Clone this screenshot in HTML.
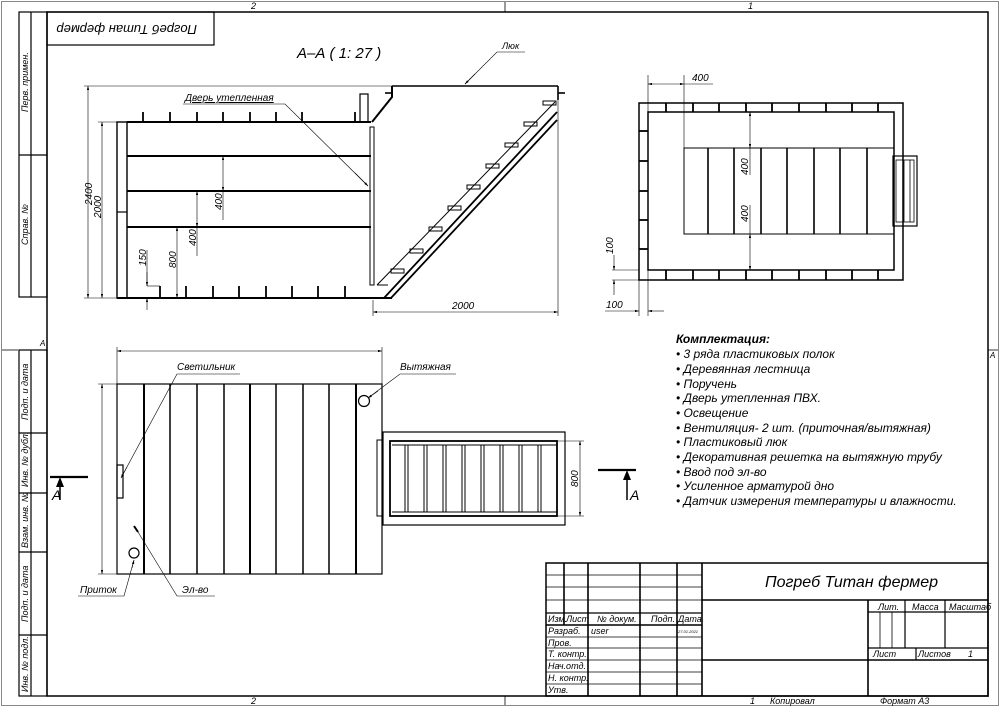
<!DOCTYPE html>
<html><head><meta charset="utf-8"><style>
html,body{margin:0;padding:0;background:#fff}
svg{display:block}
text{font-family:"Liberation Sans","DejaVu Sans",sans-serif;font-style:italic;fill:#000}
</style></head><body>
<svg width="1000" height="707" viewBox="0 0 1000 707" xmlns="http://www.w3.org/2000/svg">
<defs>
<marker id="a" viewBox="0 0 10 6" refX="10" refY="3" markerWidth="8" markerHeight="4" orient="auto-start-reverse"><path d="M0,0L10,3L0,6z" fill="#000"/></marker>
</defs>
<!-- outer frames -->
<rect x="1.5" y="1.5" width="997" height="704" fill="none" stroke="#888" stroke-width="1"/>
<rect x="47" y="12" width="941" height="684" fill="none" stroke="#000" stroke-width="1.5"/>
<g stroke="#000" stroke-width="0.8">
<line x1="505" y1="2" x2="505" y2="12"/><line x1="505" y1="696" x2="505" y2="705"/>
<line x1="988" y1="350" x2="998" y2="350"/><line x1="2" y1="350" x2="18" y2="350"/>
</g>
<text x="251" y="9" font-size="9">2</text><text x="748" y="9" font-size="9">1</text>
<text x="251" y="704" font-size="9">2</text>
<text x="40" y="346" font-size="8">A</text><text x="990" y="358" font-size="8">A</text>
<!-- left strips -->
<g fill="none" stroke="#000" stroke-width="1.2">
<rect x="19" y="12" width="28" height="285"/><line x1="31" y1="12" x2="31" y2="297"/><line x1="19" y1="155" x2="47" y2="155"/>
<rect x="19" y="350" width="28" height="346"/><line x1="31" y1="350" x2="31" y2="696"/>
<line x1="19" y1="433" x2="47" y2="433"/><line x1="19" y1="493" x2="47" y2="493"/><line x1="19" y1="552" x2="47" y2="552"/><line x1="19" y1="635" x2="47" y2="635"/>
<rect x="47" y="12" width="167" height="33"/>
</g>
<g font-size="9">
<text transform="translate(28,112) rotate(-90)">Перв. примен.</text>
<text transform="translate(28,245) rotate(-90)">Справ. №</text>
<text transform="translate(28,420) rotate(-90)">Подп. и дата</text>
<text transform="translate(28,487) rotate(-90)">Инв. № дубл.</text>
<text transform="translate(28,548) rotate(-90)">Взам. инв. №</text>
<text transform="translate(28,622) rotate(-90)">Подп. и дата</text>
<text transform="translate(28,692) rotate(-90)">Инв. № подл.</text>
</g>
<text transform="translate(197,25) rotate(180)" font-size="13">Погреб Титан фермер</text>

<!-- Section A-A -->
<text x="297" y="58" font-size="15">А–А ( 1: 27 )</text>
<g stroke="#000" fill="none">
<line x1="84" y1="86" x2="392" y2="86" stroke-width="0.6"/>
<line x1="392" y1="86" x2="558" y2="86" stroke-width="1.6"/>
<rect x="117" y="122" width="10" height="176" stroke-width="1.4"/>
<line x1="117" y1="212" x2="127" y2="212" stroke-width="1.2"/>
<line x1="127" y1="122" x2="371" y2="122" stroke-width="2"/>
<line x1="127" y1="156" x2="371" y2="156" stroke-width="2"/>
<line x1="127" y1="191" x2="371" y2="191" stroke-width="2"/>
<line x1="127" y1="227" x2="371" y2="227" stroke-width="2"/>
<line x1="117" y1="298" x2="392" y2="298" stroke-width="2"/>
<g stroke-width="1.8">
<line x1="143" y1="112" x2="143" y2="122"/><line x1="170" y1="112" x2="170" y2="122"/><line x1="197" y1="112" x2="197" y2="122"/><line x1="223" y1="112" x2="223" y2="122"/><line x1="250" y1="112" x2="250" y2="122"/><line x1="276" y1="112" x2="276" y2="122"/><line x1="302" y1="112" x2="302" y2="122"/><line x1="355" y1="112" x2="355" y2="122"/>
<line x1="186" y1="286" x2="186" y2="298"/><line x1="213" y1="286" x2="213" y2="298"/><line x1="239" y1="286" x2="239" y2="298"/><line x1="266" y1="286" x2="266" y2="298"/><line x1="292" y1="286" x2="292" y2="298"/><line x1="318" y1="286" x2="318" y2="298"/><line x1="345" y1="286" x2="345" y2="298"/>
<line x1="160" y1="286" x2="160" y2="298"/>
</g>
<rect x="360" y="94" width="8" height="28" stroke-width="1.2"/>
<rect x="370" y="127" width="4" height="158" stroke-width="1"/>
<polyline points="372,122 392,97 392,86" stroke-width="2"/>
<line x1="385" y1="93" x2="392" y2="93" stroke-width="1.6"/>
<line x1="558" y1="86" x2="558" y2="100" stroke-width="1.6"/>
<line x1="558" y1="93" x2="565" y2="93" stroke-width="1.6"/>
<line x1="377" y1="285" x2="555" y2="102" stroke-width="1"/>
<line x1="384" y1="298" x2="557" y2="112" stroke-width="1.8"/>
<line x1="391" y1="298" x2="557" y2="120" stroke-width="1.8"/>
<line x1="377" y1="285" x2="388" y2="285" stroke-width="1"/>
<g stroke-width="1">
<rect x="391" y="269" width="13" height="4"/><rect x="410" y="249" width="13" height="4"/><rect x="429" y="227" width="13" height="4"/><rect x="448" y="206" width="13" height="4"/><rect x="467" y="185" width="13" height="4"/><rect x="486" y="164" width="13" height="4"/><rect x="505" y="143" width="13" height="4"/><rect x="524" y="122" width="13" height="4"/><rect x="543" y="101" width="13" height="4"/>
</g>
<!-- dims -->
<g stroke-width="0.6">
<line x1="88" y1="86" x2="88" y2="298" marker-start="url(#a)" marker-end="url(#a)"/>
<line x1="84" y1="298" x2="117" y2="298"/>
<line x1="102" y1="122" x2="102" y2="298" marker-start="url(#a)" marker-end="url(#a)"/>
<line x1="98" y1="122" x2="117" y2="122"/>
<line x1="223" y1="156" x2="223" y2="191" marker-start="url(#a)" marker-end="url(#a)"/>
<line x1="223" y1="191" x2="223" y2="220"/>
<line x1="197" y1="191" x2="197" y2="227" marker-start="url(#a)" marker-end="url(#a)"/>
<line x1="197" y1="227" x2="197" y2="256"/>
<line x1="177" y1="227" x2="177" y2="298" marker-start="url(#a)" marker-end="url(#a)"/>
<line x1="147" y1="250" x2="147" y2="286" />
<line x1="147" y1="272" x2="147" y2="286" marker-end="url(#a)"/>
<line x1="147" y1="310" x2="147" y2="298" marker-end="url(#a)"/>
<line x1="147" y1="286" x2="160" y2="286"/>
<line x1="373" y1="300" x2="373" y2="316"/><line x1="558" y1="100" x2="558" y2="316"/>
<line x1="373" y1="312" x2="558" y2="312" marker-start="url(#a)" marker-end="url(#a)"/>
<polyline points="183,104 285,104 368,186" /><line x1="355" y1="173" x2="368" y2="186" marker-end="url(#a)"/>
<polyline points="525,52 497,52 465,84"/><line x1="475" y1="74" x2="465" y2="84" marker-end="url(#a)"/>
</g>
</g>
<g font-size="10">
<text transform="translate(92,205) rotate(-90)">2400</text>
<text transform="translate(101,218) rotate(-90)">2000</text>
<text transform="translate(222,210) rotate(-90)">400</text>
<text transform="translate(196,246) rotate(-90)">400</text>
<text transform="translate(176,268) rotate(-90)">800</text>
<text transform="translate(146,266) rotate(-90)">150</text>
<text x="452" y="309">2000</text>
<text x="185" y="101" text-decoration="underline">Дверь утепленная</text>
<text x="502" y="49" font-size="9">Люк</text>
</g>

<!-- Plan top right -->
<g stroke="#000" fill="none">
<rect x="639" y="103" width="264" height="177" stroke-width="1.5"/>
<rect x="648" y="112" width="246" height="158" stroke-width="1.5"/>
<g stroke-width="1.8">
<line x1="666" y1="103" x2="666" y2="112"/><line x1="693" y1="103" x2="693" y2="112"/><line x1="719" y1="103" x2="719" y2="112"/><line x1="746" y1="103" x2="746" y2="112"/><line x1="772" y1="103" x2="772" y2="112"/><line x1="799" y1="103" x2="799" y2="112"/><line x1="826" y1="103" x2="826" y2="112"/><line x1="852" y1="103" x2="852" y2="112"/><line x1="878" y1="103" x2="878" y2="112"/>
<line x1="666" y1="270" x2="666" y2="280"/><line x1="693" y1="270" x2="693" y2="280"/><line x1="719" y1="270" x2="719" y2="280"/><line x1="746" y1="270" x2="746" y2="280"/><line x1="772" y1="270" x2="772" y2="280"/><line x1="799" y1="270" x2="799" y2="280"/><line x1="826" y1="270" x2="826" y2="280"/><line x1="852" y1="270" x2="852" y2="280"/><line x1="878" y1="270" x2="878" y2="280"/>
<line x1="639" y1="131" x2="648" y2="131"/><line x1="639" y1="161" x2="648" y2="161"/><line x1="639" y1="191" x2="648" y2="191"/><line x1="639" y1="220" x2="648" y2="220"/><line x1="639" y1="249" x2="648" y2="249"/>
</g>
<rect x="684" y="148" width="210" height="86" stroke-width="1"/>
<g stroke-width="1.6">
<line x1="708" y1="148" x2="708" y2="234"/><line x1="734" y1="148" x2="734" y2="234"/><line x1="761" y1="148" x2="761" y2="234"/><line x1="787" y1="148" x2="787" y2="234"/><line x1="814" y1="148" x2="814" y2="234"/><line x1="840" y1="148" x2="840" y2="234"/><line x1="867" y1="148" x2="867" y2="234"/>
</g>
<rect x="893" y="156" width="24" height="70" stroke-width="1.2"/>
<rect x="896" y="160" width="18" height="62" stroke-width="0.8"/>
<line x1="904" y1="160" x2="904" y2="222" stroke-width="0.8"/><line x1="910" y1="160" x2="910" y2="222" stroke-width="0.8"/>
<g stroke-width="0.6">
<line x1="648" y1="75" x2="648" y2="112"/><line x1="684" y1="75" x2="684" y2="148"/>
<line x1="648" y1="84" x2="684" y2="84" marker-start="url(#a)" marker-end="url(#a)"/><line x1="684" y1="84" x2="713" y2="84"/>
<line x1="750" y1="112" x2="750" y2="148" marker-start="url(#a)" marker-end="url(#a)"/><line x1="750" y1="148" x2="750" y2="175"/>
<line x1="750" y1="234" x2="750" y2="270" marker-start="url(#a)" marker-end="url(#a)"/><line x1="750" y1="205" x2="750" y2="234"/>
<line x1="612" y1="270" x2="639" y2="270"/><line x1="612" y1="280" x2="639" y2="280"/>
<line x1="614" y1="255" x2="614" y2="270" marker-end="url(#a)"/><line x1="614" y1="295" x2="614" y2="280" marker-end="url(#a)"/>
<line x1="639" y1="280" x2="639" y2="316"/><line x1="648" y1="270" x2="648" y2="316"/>
<line x1="605" y1="311" x2="639" y2="311" marker-end="url(#a)"/><line x1="664" y1="311" x2="648" y2="311" marker-end="url(#a)"/>
</g>
</g>
<g font-size="10">
<text x="692" y="81">400</text>
<text transform="translate(748,175) rotate(-90)">400</text>
<text transform="translate(748,222) rotate(-90)">400</text>
<text transform="translate(613,254) rotate(-90)">100</text>
<text x="606" y="308">100</text>
</g>

<!-- Plan bottom -->
<g stroke="#000" fill="none">
<rect x="117" y="384" width="265" height="190" stroke-width="1.2"/>
<g stroke-width="1.5">
<line x1="144" y1="384" x2="144" y2="574" stroke-width="2"/><line x1="170" y1="384" x2="170" y2="574"/><line x1="197" y1="384" x2="197" y2="574"/><line x1="224" y1="384" x2="224" y2="574"/><line x1="250" y1="384" x2="250" y2="574" stroke-width="2"/><line x1="276" y1="384" x2="276" y2="574"/><line x1="303" y1="384" x2="303" y2="574"/><line x1="329" y1="384" x2="329" y2="574"/><line x1="356" y1="384" x2="356" y2="574" stroke-width="2"/>
</g>
<rect x="117" y="465" width="6" height="33" stroke-width="1.2"/>
<circle cx="364" cy="401" r="5.5" stroke-width="1.2"/>
<circle cx="134" cy="553" r="5" stroke-width="1.2"/>
<line x1="134" y1="526" x2="138" y2="532" stroke-width="2"/>
<rect x="383" y="432" width="182" height="93" stroke-width="1.2"/>
<rect x="390" y="441" width="167" height="75" stroke-width="1.8"/>
<line x1="392" y1="445" x2="557" y2="445" stroke-width="1"/><line x1="392" y1="512" x2="557" y2="512" stroke-width="1"/>
<rect x="377" y="440" width="6" height="76" stroke-width="1"/>
<g stroke-width="1">
<line x1="405" y1="445" x2="405" y2="512"/><line x1="408" y1="445" x2="408" y2="512"/>
<line x1="424" y1="445" x2="424" y2="512"/><line x1="427" y1="445" x2="427" y2="512"/>
<line x1="443" y1="445" x2="443" y2="512"/><line x1="446" y1="445" x2="446" y2="512"/>
<line x1="462" y1="445" x2="462" y2="512"/><line x1="465" y1="445" x2="465" y2="512"/>
<line x1="481" y1="445" x2="481" y2="512"/><line x1="484" y1="445" x2="484" y2="512"/>
<line x1="500" y1="445" x2="500" y2="512"/><line x1="503" y1="445" x2="503" y2="512"/>
<line x1="519" y1="445" x2="519" y2="512"/><line x1="522" y1="445" x2="522" y2="512"/>
<line x1="538" y1="445" x2="538" y2="512"/><line x1="541" y1="445" x2="541" y2="512"/>
</g>
<g stroke-width="0.6">
<line x1="117" y1="351" x2="382" y2="351" marker-start="url(#a)" marker-end="url(#a)"/>
<line x1="117" y1="347" x2="117" y2="384"/><line x1="382" y1="347" x2="382" y2="384"/>
<line x1="102" y1="384" x2="102" y2="574" marker-start="url(#a)" marker-end="url(#a)"/>
<line x1="98" y1="384" x2="117" y2="384"/><line x1="98" y1="574" x2="117" y2="574"/>
<line x1="557" y1="441" x2="584" y2="441"/><line x1="557" y1="516" x2="584" y2="516"/>
<line x1="580" y1="441" x2="580" y2="516" marker-start="url(#a)" marker-end="url(#a)"/>
<polyline points="240,374 177,374 121,478"/><line x1="127" y1="467" x2="121" y2="478" marker-end="url(#a)"/>
<polyline points="456,374 400,374 368,398"/><line x1="378" y1="391" x2="368" y2="398" marker-end="url(#a)"/>
<polyline points="78,596 124,596 134,560"/><line x1="132" y1="568" x2="134" y2="560" marker-end="url(#a)"/>
<polyline points="215,596 177,596 138,532"/>
</g>
<line x1="50" y1="477" x2="88" y2="477" stroke-width="2.2"/>
<line x1="60" y1="500" x2="60" y2="485" stroke-width="1.5"/>
<line x1="598" y1="470" x2="636" y2="470" stroke-width="2.2"/>
<line x1="627" y1="500" x2="627" y2="478" stroke-width="1.5"/>
</g>
<path d="M56,487L60,477L64,487z M623,480L627,470L631,480z"/>
<g font-size="10">
<text x="177" y="370">Светильник</text>
<text x="400" y="370">Вытяжная</text>
<text x="80" y="593">Приток</text>
<text x="182" y="593">Эл-во</text>
<text transform="translate(578,487) rotate(-90)">800</text>
</g>
<text x="52" y="500" font-size="14">A</text>
<text x="630" y="500" font-size="14">A</text>

<!-- kit list -->
<g font-size="12">
<text x="676" y="343" font-weight="bold">Комплектация:</text>
<text x="676" y="358">• 3 ряда пластиковых полок</text>
<text x="676" y="373">• Деревянная лестница</text>
<text x="676" y="388">• Поручень</text>
<text x="676" y="402">• Дверь утепленная ПВХ.</text>
<text x="676" y="417">• Освещение</text>
<text x="676" y="432">• Вентиляция- 2 шт. (приточная/вытяжная)</text>
<text x="676" y="446">• Пластиковый люк</text>
<text x="676" y="461">• Декоративная решетка на вытяжную трубу</text>
<text x="676" y="476">• Ввод под эл-во</text>
<text x="676" y="490">• Усиленное арматурой дно</text>
<text x="676" y="505">• Датчик измерения температуры и влажности.</text>
</g>

<!-- title block -->
<g stroke="#000" fill="none" stroke-width="1.2">
<rect x="546" y="563" width="442" height="133" stroke-width="1.5"/>
<line x1="564" y1="563" x2="564" y2="625" stroke-width="1.6"/>
<line x1="588" y1="563" x2="588" y2="696" stroke-width="1.6"/>
<line x1="640" y1="563" x2="640" y2="696" stroke-width="1.6"/>
<line x1="677" y1="563" x2="677" y2="696" stroke-width="1.6"/>
<line x1="702" y1="563" x2="702" y2="696" stroke-width="1.6"/>
<line x1="546" y1="575" x2="702" y2="575" stroke-width="0.8"/>
<line x1="546" y1="587" x2="702" y2="587" stroke-width="0.8"/>
<line x1="546" y1="600" x2="702" y2="600" stroke-width="0.8"/>
<line x1="546" y1="613" x2="702" y2="613"/>
<line x1="546" y1="625" x2="702" y2="625" stroke-width="1.6"/>
<line x1="546" y1="637" x2="702" y2="637" stroke-width="0.8"/>
<line x1="546" y1="648" x2="702" y2="648" stroke-width="0.8"/>
<line x1="546" y1="660" x2="702" y2="660" stroke-width="0.8"/>
<line x1="546" y1="672" x2="702" y2="672" stroke-width="0.8"/>
<line x1="546" y1="684" x2="702" y2="684" stroke-width="0.8"/>
<line x1="702" y1="600" x2="988" y2="600" stroke-width="1.6"/>
<line x1="868" y1="600" x2="868" y2="696" stroke-width="1.6"/>
<line x1="702" y1="660" x2="988" y2="660" stroke-width="1.6"/>
<line x1="868" y1="612" x2="988" y2="612"/>
<line x1="868" y1="648" x2="988" y2="648"/>
<line x1="905" y1="600" x2="905" y2="648"/>
<line x1="945" y1="600" x2="945" y2="648"/>
<line x1="880" y1="612" x2="880" y2="648" stroke-width="0.8"/>
<line x1="892" y1="612" x2="892" y2="648" stroke-width="0.8"/>
<line x1="916" y1="648" x2="916" y2="660"/>
</g>
<text x="765" y="587" font-size="16">Погреб Титан фермер</text>
<g font-size="9">
<text x="548" y="622">Изм.</text><text x="566" y="622">Лист</text><text x="597" y="622">№ докум.</text><text x="651" y="622">Подп.</text><text x="678" y="622">Дата</text>
<text x="548" y="634">Разраб.</text><text x="591" y="634">user</text>
<text x="548" y="646">Пров.</text><text x="548" y="657">Т. контр.</text><text x="548" y="669">Нач.отд.</text><text x="548" y="681">Н. контр.</text><text x="548" y="693">Утв.</text>
<text x="878" y="610">Лит.</text><text x="912" y="610">Масса</text><text x="949" y="610">Масштаб</text>
<text x="873" y="657">Лист</text><text x="918" y="657">Листов</text><text x="968" y="657">1</text>
<text x="750" y="704">1</text><text x="770" y="704">Копировал</text><text x="880" y="704">Формат А3</text>
</g>
<text x="678" y="633" font-size="4">27.01.2021</text>
</svg>
</body></html>
